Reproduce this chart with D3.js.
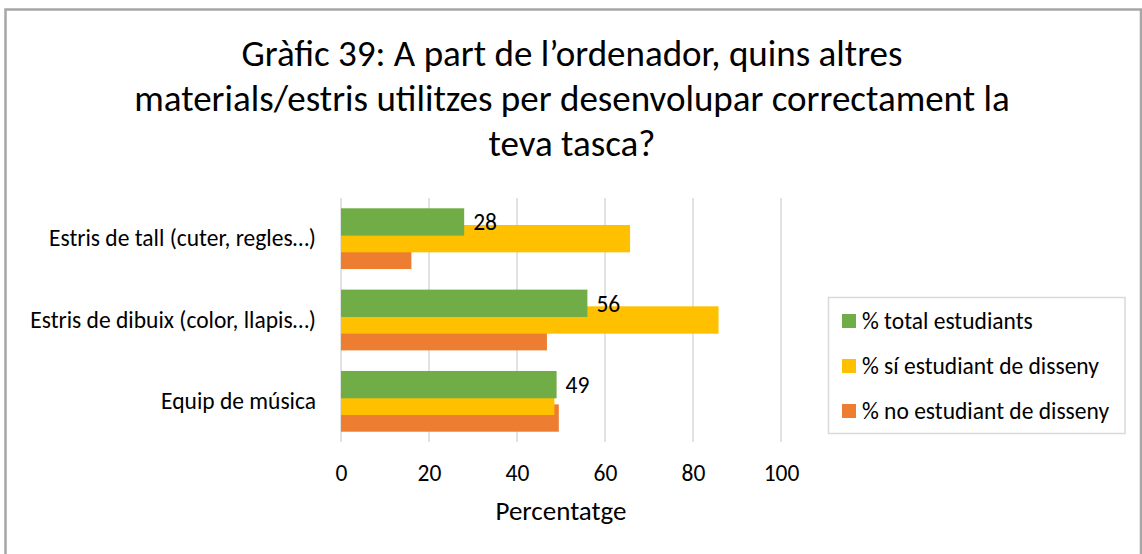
<!DOCTYPE html>
<html>
<head>
<meta charset="utf-8">
<script src="https://cdn.jsdelivr.net/npm/d3@7"></script>
<style>
  html, body { margin: 0; padding: 0; background: #fff; }
  svg { display: block; }
  text { font-family: Carlito, Calibri, Lato, "DejaVu Sans", sans-serif; fill: #000; }
</style>
</head>
<body>
<svg id="chart" width="1142" height="554"></svg>
<script>
// Categories (top to bottom) and series values in percent
const categories = [
  "Estris de tall (cuter, regles…)",
  "Estris de dibuix (color, llapis…)",
  "Equip de música"
];
const seriesNames = [
  "% total estudiants",
  "% sí estudiant de disseny",
  "% no estudiant de disseny"
];
const totalValues = [28, 56, 49];
const designValues = [65.7, 85.8, 48.5];
const nonDesignValues = [16, 46.8, 49.5];
const xTicks = [0, 20, 40, 60, 80, 100];
const titleLines = [
  "Gràfic 39: A part de l’ordenador, quins altres",
  "materials/estris utilitzes per desenvolupar correctament la",
  "teva tasca?"
];
const axisTitle = "Percentatge";
const colors = ["#70ad47", "#ffc000", "#ed7d31"];

const series = [totalValues, designValues, nonDesignValues];

const svg = d3.select("#chart");
svg.append("rect").attr("width", 1142).attr("height", 554).attr("fill", "#fff");

// outer chart frame
svg.append("rect")
  .attr("x", 5.5).attr("y", 9.5)
  .attr("width", 1135.5).attr("height", 560)
  .attr("fill", "none").attr("stroke", "#a6a6a6").attr("stroke-width", 2.5);

// title
svg.append("g").selectAll("text").data(titleLines).join("text")
  .attr("x", 572).attr("y", (d, i) => 66 + i * 45)
  .attr("text-anchor", "middle")
  .style("font-size", "37px")
  .text(d => d);

const plotTop = 198, plotBottom = 442;
const x = d3.scaleLinear().domain([0, 100]).range([341, 781]);
const y = d3.scaleBand().domain(categories).range([plotTop, plotBottom])
  .paddingInner(0.253).paddingOuter(0.1265);

// gridlines
svg.append("g").selectAll("line").data(xTicks).join("line")
  .attr("x1", d => x(d)).attr("x2", d => x(d))
  .attr("y1", plotTop).attr("y2", plotBottom)
  .attr("stroke", "#d9d9d9").attr("stroke-width", 1.5);

// bars: overlapping within each group, drawn bottom series first so the first series sits on top
const bw = y.bandwidth();
const barH = bw * 0.45;
const barStep = (bw - barH) / 2;
const barsG = svg.append("g");
[2, 1, 0].forEach(si => {
  barsG.append("g").selectAll("rect").data(series[si]).join("rect")
    .attr("x", x(0))
    .attr("y", (d, i) => y(categories[i]) + si * barStep)
    .attr("width", d => x(d) - x(0))
    .attr("height", barH)
    .attr("fill", colors[si]);
});

// data labels for total series
svg.append("g").selectAll("text").data(totalValues).join("text")
  .attr("x", d => x(d) + 9)
  .attr("y", (d, i) => y(categories[i]) + barH / 2)
  .attr("dy", "0.36em")
  .style("font-size", "23.5px")
  .text(d => d3.format("d")(d));

// category labels
const yAxis = d3.axisLeft(y).tickSize(0).tickPadding(0);
const yg = svg.append("g").attr("transform", "translate(316,0)").call(yAxis);
yg.select(".domain").remove();
yg.selectAll("text").style("font-size", "23.5px").attr("font-family", null).attr("fill", "#000");

// x tick labels
const xAxis = d3.axisBottom(x).tickValues(xTicks).tickSize(0).tickPadding(0);
const xg = svg.append("g").attr("transform", "translate(0,464)").call(xAxis);
xg.select(".domain").remove();
xg.selectAll("text").style("font-size", "23.5px").attr("font-family", null).attr("fill", "#000");

// axis title
svg.append("text").attr("x", 561).attr("y", 520)
  .attr("text-anchor", "middle").style("font-size", "27px").text(axisTitle);

// legend
const lg = svg.append("g");
lg.append("rect").attr("x", 828.5).attr("y", 297.5).attr("width", 296.5).attr("height", 136)
  .attr("fill", "#fff").attr("stroke", "#d9d9d9").attr("stroke-width", 1.5);
const items = lg.selectAll("g.item").data(seriesNames).join("g").attr("class", "item")
  .attr("transform", (d, i) => `translate(842,${321 + i * 45})`);
items.append("rect").attr("x", 0).attr("y", -7).attr("width", 14).attr("height", 14)
  .attr("fill", (d, i) => colors[i]);
items.append("text").attr("x", 20).attr("y", 0).attr("dy", "0.36em")
  .style("font-size", "23.5px").text(d => d);
</script>
</body>
</html>
